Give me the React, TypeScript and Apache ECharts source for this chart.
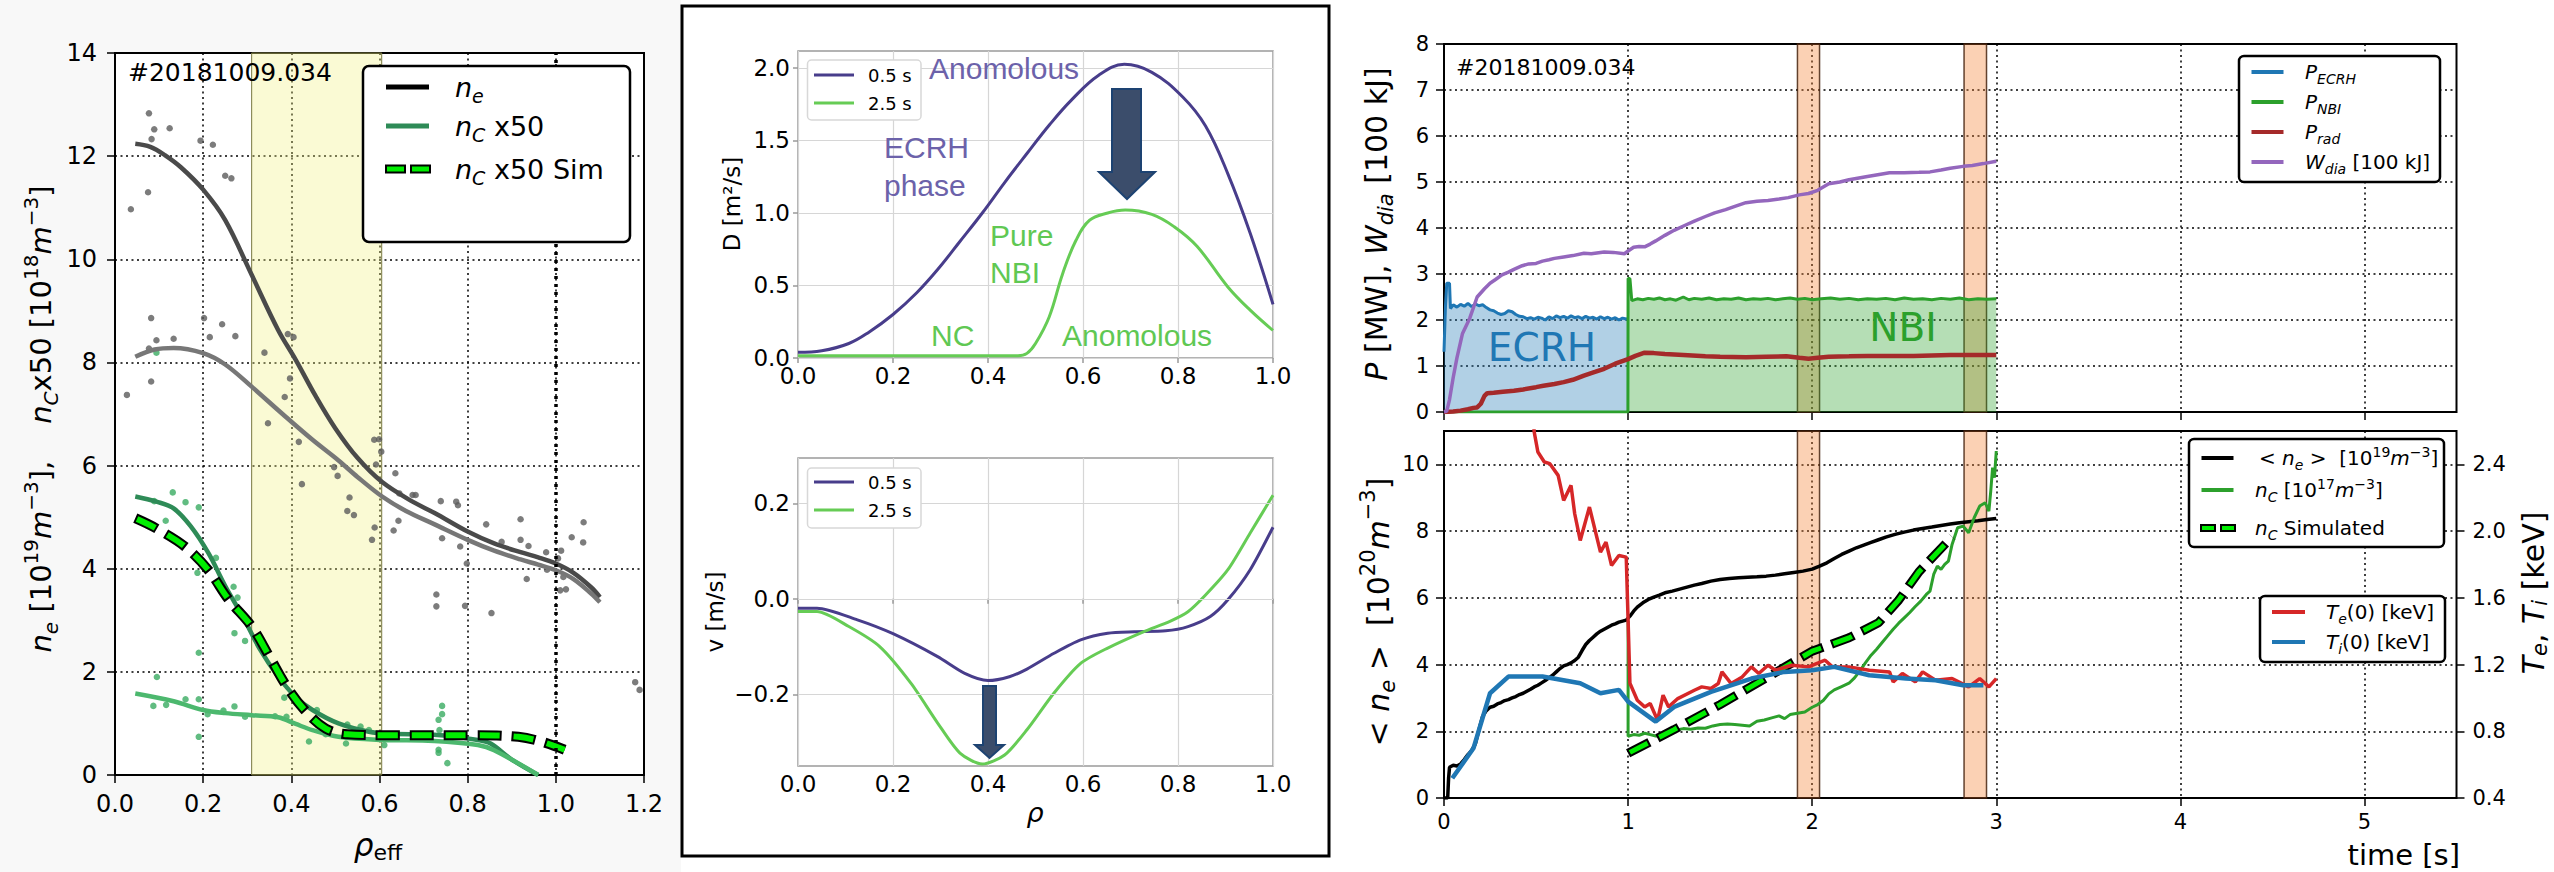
import React, { useEffect, useRef } from 'react';
import * as echarts from 'echarts';

const FONT = "'DejaVu Sans', 'Noto Sans', sans-serif";
const ARIAL = "'Liberation Sans', Arial, sans-serif";

// ---------- left panel: density profiles over rho_eff ----------
const rhoTicks = [0, 0.2, 0.4, 0.6, 0.8, 1.0, 1.2];
const densityTicks = [0, 2, 4, 6, 8, 10, 12, 14];
const yellowBand = [0.31, 0.605];
const separatrix = 1.0;

const neFitA = [[0.046,12.24],[0.08,12.18],[0.113,12.02],[0.15,11.78],[0.2,11.35],[0.25,10.76],[0.31,9.7],[0.37,8.63],[0.41,8.05],[0.455,7.35],[0.5,6.72],[0.55,6.15],[0.606,5.68],[0.675,5.3],[0.725,5.08],[0.8,4.72],[0.86,4.49],[0.92,4.32],[0.96,4.22],[1.0,4.1],[1.04,3.92],[1.08,3.64],[1.1,3.45]];
const neFitB = [[0.046,8.11],[0.09,8.25],[0.133,8.28],[0.2,8.18],[0.25,7.96],[0.31,7.53],[0.38,7.0],[0.448,6.5],[0.507,6.1],[0.55,5.78],[0.606,5.4],[0.66,5.12],[0.725,4.86],[0.8,4.56],[0.86,4.35],[0.92,4.18],[0.96,4.08],[1.0,3.97],[1.04,3.8],[1.08,3.52],[1.1,3.35]];
const neDots = [[0.077,12.83],[0.036,10.97],[0.083,12.33],[0.089,12.52],[0.124,12.54],[0.075,11.3],[0.194,12.3],[0.222,12.22],[0.25,11.62],[0.264,11.57],[0.027,7.37],[0.082,8.86],[0.077,8.27],[0.094,8.43],[0.133,8.46],[0.082,7.63],[0.202,8.86],[0.215,8.49],[0.243,8.74],[0.273,8.51],[0.339,8.19],[0.347,6.82],[0.392,8.55],[0.405,8.49],[0.397,7.69],[0.385,7.33],[0.417,6.46],[0.424,5.64],[0.497,5.97],[0.505,5.8],[0.532,5.38],[0.527,5.12],[0.542,5.04],[0.588,6.5],[0.599,6.51],[0.604,6.27],[0.592,6.02],[0.589,4.8],[0.583,4.56],[0.636,5.85],[0.645,5.46],[0.675,5.43],[0.682,5.43],[0.643,4.93],[0.632,4.74],[0.739,5.31],[0.774,5.3],[0.778,5.23],[0.742,4.59],[0.783,4.43],[0.729,3.5],[0.729,3.27],[0.798,4.1],[0.794,3.28],[0.842,4.86],[0.854,3.14],[0.877,4.52],[0.92,4.96],[0.92,4.56],[0.938,4.44],[0.934,3.8],[0.978,4.32],[0.98,3.98],[1.005,4.2],[1.012,4.35],[1.01,3.58],[1.023,3.6],[1.036,4.61],[1.063,4.9],[1.062,4.51],[1.017,3.84],[1.18,1.8],[1.19,1.65]];
const ncFitCore = [[0.046,5.4],[0.094,5.3],[0.133,5.17],[0.172,4.82],[0.212,4.3],[0.251,3.65],[0.29,3.07],[0.33,2.42],[0.37,1.91],[0.409,1.52],[0.448,1.26],[0.507,1.0],[0.576,0.84],[0.626,0.8],[0.724,0.78],[0.823,0.68],[0.852,0.61],[0.9,0.3],[0.96,0.0]];
const ncFitEdge = [[0.046,1.58],[0.133,1.43],[0.2,1.26],[0.25,1.2],[0.31,1.16],[0.37,1.12],[0.41,0.99],[0.448,0.87],[0.507,0.74],[0.606,0.68],[0.724,0.66],[0.823,0.58],[0.86,0.48],[0.96,0.0]];
const ncDots = [[0.089,5.31],[0.115,4.93],[0.131,5.48],[0.16,5.29],[0.19,5.19],[0.229,4.21],[0.187,3.92],[0.269,3.65],[0.278,3.44],[0.271,2.75],[0.295,2.6],[0.19,2.37],[0.095,1.9],[0.087,1.34],[0.116,1.36],[0.16,1.47],[0.19,1.47],[0.21,1.18],[0.246,1.25],[0.271,1.33],[0.295,1.13],[0.363,1.14],[0.384,1.5],[0.389,1.13],[0.44,0.65],[0.458,1.26],[0.478,0.79],[0.524,0.61],[0.527,0.98],[0.557,0.94],[0.576,0.87],[0.611,0.58],[0.734,1.07],[0.736,0.87],[0.742,1.34],[0.742,1.18],[0.734,0.49],[0.734,0.43],[0.754,0.23],[0.19,0.74],[0.094,8.19]];
const ncSimProfile = [[0.046,4.98],[0.094,4.78],[0.16,4.42],[0.212,3.97],[0.258,3.4],[0.31,2.88],[0.35,2.3],[0.39,1.71],[0.43,1.26],[0.478,0.9],[0.527,0.79],[0.626,0.77],[0.823,0.77],[0.915,0.74],[0.97,0.64],[1.02,0.49]];

// ---------- middle panel: transport coefficients ----------
const rhoUnitTicks = [0, 0.2, 0.4, 0.6, 0.8, 1.0];
const diffTicks = [0, 0.5, 1.0, 1.5, 2.0];
const velTicks = [-0.2, 0, 0.2];
const diffEcrh = [[0,0.039],[0.05,0.05],[0.107,0.1],[0.15,0.18],[0.2,0.3],[0.25,0.45],[0.294,0.61],[0.34,0.8],[0.388,1.0],[0.435,1.21],[0.482,1.41],[0.53,1.61],[0.576,1.78],[0.633,1.95],[0.687,2.025],[0.745,1.97],[0.81,1.8],[0.858,1.6],[0.905,1.27],[0.952,0.86],[1.0,0.37]];
const diffNbi = [[0,0.016],[0.1,0.016],[0.2,0.016],[0.3,0.016],[0.4,0.016],[0.463,0.016],[0.482,0.032],[0.5,0.1],[0.529,0.285],[0.557,0.58],[0.585,0.81],[0.614,0.95],[0.652,1.0],[0.689,1.02],[0.745,0.99],[0.792,0.905],[0.84,0.77],[0.905,0.49],[0.952,0.33],[1.0,0.19]];
const velEcrh = [[0,-0.0195],[0.04,-0.0195],[0.125,-0.044],[0.2,-0.073],[0.294,-0.121],[0.351,-0.156],[0.4,-0.171],[0.445,-0.163],[0.482,-0.147],[0.539,-0.114],[0.595,-0.086],[0.652,-0.072],[0.708,-0.069],[0.774,-0.067],[0.821,-0.058],[0.868,-0.037],[0.905,-0.002],[0.952,0.061],[1.0,0.15]];
const velNbi = [[0,-0.0265],[0.04,-0.0265],[0.107,-0.058],[0.172,-0.1],[0.238,-0.177],[0.294,-0.26],[0.341,-0.323],[0.388,-0.346],[0.435,-0.327],[0.482,-0.274],[0.539,-0.197],[0.595,-0.135],[0.652,-0.103],[0.727,-0.069],[0.783,-0.047],[0.821,-0.027],[0.858,0.008],[0.905,0.061],[0.952,0.138],[1.0,0.217]];

// ---------- right panels: time traces ----------
const timeTicks = [0, 1, 2, 3, 4, 5];
const powerTicks = [0, 1, 2, 3, 4, 5, 6, 7, 8];
const densTimeTicks = [0, 2, 4, 6, 8, 10];
const tempTicks = [0.4, 0.8, 1.2, 1.6, 2.0, 2.4];
const profileWindows = [[1.92, 2.04], [2.825, 2.947]];

const pEcrh = [[0,1.31],[0.008,2.3],[0.015,2.8],[0.03,2.8],[0.035,2.25],[0.05,2.33],[0.07,2.28],[0.09,2.34],[0.11,2.3],[0.13,2.36],[0.15,2.29],[0.17,2.35],[0.19,2.31],[0.21,2.33],[0.23,2.27],[0.25,2.22],[0.27,2.2],[0.29,2.15],[0.31,2.12],[0.33,2.14],[0.35,2.2],[0.37,2.18],[0.39,2.12],[0.41,2.08],[0.43,2.07],[0.45,2.03],[0.47,2.05],[0.49,2.02],[0.51,2.06],[0.53,2.04],[0.55,2.0],[0.57,2.07],[0.59,2.03],[0.61,2.09],[0.63,2.05],[0.65,2.08],[0.67,2.04],[0.69,2.09],[0.71,2.05],[0.73,2.07],[0.75,2.03],[0.77,2.08],[0.79,2.04],[0.81,2.06],[0.83,2.02],[0.85,2.07],[0.87,2.03],[0.89,2.06],[0.91,2.02],[0.93,2.05],[0.95,2.0],[0.97,2.04],[0.99,2.02],[1.0,2.03]];
const pNbi = [[0,0],[0.5,0],[0.999,0],[1.0,2.9],[1.01,2.9],[1.02,2.42],[1.05,2.46],[1.08,2.44],[1.11,2.47],[1.14,2.45],[1.17,2.48],[1.2,2.44],[1.23,2.46],[1.26,2.43],[1.3,2.5],[1.33,2.44],[1.36,2.47],[1.4,2.45],[1.44,2.48],[1.48,2.44],[1.52,2.46],[1.56,2.45],[1.6,2.48],[1.64,2.44],[1.68,2.46],[1.72,2.45],[1.76,2.47],[1.8,2.44],[1.84,2.46],[1.88,2.48],[1.92,2.45],[1.96,2.47],[2.0,2.44],[2.05,2.46],[2.1,2.48],[2.15,2.45],[2.2,2.47],[2.25,2.44],[2.3,2.46],[2.35,2.45],[2.4,2.47],[2.45,2.44],[2.5,2.48],[2.55,2.45],[2.6,2.46],[2.65,2.44],[2.7,2.47],[2.75,2.45],[2.8,2.48],[2.85,2.44],[2.9,2.46],[2.95,2.45],[3.0,2.46]];
const pRad = [[0,0],[0.05,0.01],[0.09,0.03],[0.13,0.06],[0.16,0.09],[0.18,0.1],[0.2,0.18],[0.22,0.35],[0.235,0.41],[0.27,0.42],[0.32,0.44],[0.38,0.46],[0.43,0.49],[0.5,0.54],[0.54,0.57],[0.6,0.61],[0.65,0.65],[0.7,0.7],[0.76,0.79],[0.82,0.87],[0.87,0.94],[0.93,1.05],[1.0,1.15],[1.04,1.22],[1.09,1.29],[1.14,1.28],[1.2,1.26],[1.3,1.24],[1.42,1.21],[1.5,1.2],[1.64,1.19],[1.75,1.2],[1.86,1.21],[1.93,1.18],[1.98,1.16],[2.03,1.18],[2.09,1.2],[2.2,1.21],[2.3,1.22],[2.42,1.22],[2.55,1.22],[2.65,1.23],[2.75,1.24],[2.85,1.24],[2.95,1.24],[3.0,1.24]];
const wDia = [[0,0],[0.015,0.02],[0.03,0.27],[0.05,0.75],[0.07,1.17],[0.1,1.7],[0.14,2.04],[0.18,2.5],[0.22,2.68],[0.25,2.8],[0.28,2.88],[0.315,2.98],[0.35,3.04],[0.38,3.1],[0.425,3.18],[0.46,3.22],[0.5,3.23],[0.535,3.28],[0.57,3.31],[0.6,3.34],[0.65,3.37],[0.7,3.4],[0.76,3.45],[0.8,3.44],[0.87,3.48],[0.92,3.47],[0.98,3.44],[1.0,3.5],[1.03,3.58],[1.06,3.6],[1.09,3.59],[1.12,3.65],[1.15,3.72],[1.2,3.84],[1.25,3.95],[1.31,4.06],[1.36,4.15],[1.42,4.25],[1.47,4.33],[1.53,4.4],[1.58,4.47],[1.64,4.55],[1.7,4.58],[1.76,4.6],[1.82,4.63],[1.87,4.66],[1.93,4.72],[1.98,4.75],[2.03,4.82],[2.09,4.96],[2.15,5.0],[2.2,5.05],[2.3,5.12],[2.42,5.2],[2.5,5.2],[2.58,5.21],[2.64,5.22],[2.7,5.26],[2.75,5.3],[2.82,5.34],[2.87,5.36],[2.93,5.4],[3.0,5.45]];

const neLineAvg = [[0,0],[0.02,0],[0.025,0.6],[0.03,0.92],[0.05,0.98],[0.07,0.96],[0.09,1.02],[0.11,1.15],[0.13,1.3],[0.15,1.42],[0.17,1.62],[0.19,2.05],[0.21,2.45],[0.23,2.62],[0.25,2.72],[0.27,2.75],[0.29,2.82],[0.31,2.86],[0.33,2.92],[0.35,2.95],[0.37,3.0],[0.39,3.04],[0.41,3.1],[0.43,3.14],[0.45,3.2],[0.47,3.26],[0.49,3.33],[0.51,3.38],[0.53,3.45],[0.55,3.52],[0.57,3.6],[0.59,3.68],[0.61,3.78],[0.63,3.88],[0.65,3.96],[0.67,4.0],[0.69,4.05],[0.71,4.12],[0.73,4.22],[0.75,4.42],[0.77,4.6],[0.79,4.72],[0.81,4.82],[0.83,4.92],[0.85,5.0],[0.87,5.06],[0.89,5.12],[0.91,5.18],[0.93,5.22],[0.95,5.27],[0.97,5.3],[0.99,5.33],[1.01,5.45],[1.03,5.6],[1.05,5.72],[1.08,5.85],[1.11,5.95],[1.14,6.02],[1.17,6.08],[1.2,6.15],[1.24,6.2],[1.28,6.26],[1.32,6.32],[1.36,6.38],[1.4,6.43],[1.45,6.5],[1.5,6.55],[1.55,6.58],[1.6,6.6],[1.65,6.62],[1.7,6.63],[1.75,6.65],[1.8,6.68],[1.85,6.72],[1.9,6.76],[1.95,6.8],[2.0,6.86],[2.04,6.95],[2.08,7.05],[2.12,7.18],[2.16,7.3],[2.2,7.4],[2.24,7.5],[2.28,7.58],[2.32,7.66],[2.36,7.74],[2.4,7.82],[2.45,7.9],[2.5,7.97],[2.55,8.03],[2.6,8.08],[2.65,8.12],[2.7,8.17],[2.75,8.21],[2.8,8.25],[2.85,8.28],[2.9,8.31],[2.95,8.35],[3.0,8.38]];
const ncTrace = [[1.0,5.3],[1.0,1.85],[1.03,1.9],[1.06,1.88],[1.09,1.94],[1.12,1.9],[1.15,1.86],[1.18,1.84],[1.21,1.92],[1.24,1.98],[1.27,2.05],[1.3,2.08],[1.34,2.06],[1.38,2.1],[1.42,2.09],[1.46,2.16],[1.5,2.2],[1.54,2.22],[1.58,2.2],[1.62,2.18],[1.66,2.16],[1.7,2.3],[1.74,2.34],[1.78,2.4],[1.82,2.46],[1.85,2.38],[1.88,2.5],[1.92,2.54],[1.96,2.58],[2.0,2.72],[2.03,2.8],[2.06,2.92],[2.09,3.12],[2.12,3.24],[2.16,3.34],[2.2,3.44],[2.23,3.6],[2.26,3.82],[2.29,4.06],[2.32,4.28],[2.35,4.46],[2.38,4.66],[2.41,4.86],[2.44,5.06],[2.47,5.24],[2.5,5.4],[2.53,5.56],[2.56,5.74],[2.59,5.9],[2.62,6.1],[2.64,6.2],[2.66,6.7],[2.68,6.95],[2.7,6.85],[2.72,7.0],[2.74,7.1],[2.76,7.6],[2.79,8.1],[2.82,8.15],[2.85,7.95],[2.88,8.4],[2.91,8.75],[2.94,8.85],[2.96,8.6],[2.97,9.2],[2.98,9.9],[2.99,9.6],[3.0,10.4]];
const ncSimTrace = [[1.0,1.34],[1.25,2.05],[1.5,2.8],[1.75,3.6],[2.0,4.4],[2.2,4.8],[2.36,5.25],[2.47,5.93],[2.58,6.78],[2.76,7.83]];
const teCentral = [[0.48,2.75],[0.49,2.594],[0.51,2.474],[0.545,2.414],[0.575,2.404],[0.62,2.334],[0.65,2.184],[0.69,2.274],[0.71,2.104],[0.74,1.944],[0.79,2.144],[0.85,1.874],[0.88,1.934],[0.91,1.794],[0.95,1.854],[0.99,1.844],[1.01,1.088],[1.05,0.986],[1.09,0.946],[1.12,0.966],[1.16,0.866],[1.19,1.016],[1.22,0.946],[1.27,0.996],[1.36,1.046],[1.4,1.066],[1.45,1.056],[1.49,1.086],[1.51,1.156],[1.56,1.086],[1.62,1.126],[1.67,1.186],[1.71,1.146],[1.76,1.196],[1.8,1.166],[1.89,1.196],[1.98,1.186],[2.07,1.226],[2.11,1.186],[2.2,1.186],[2.31,1.166],[2.42,1.156],[2.44,1.096],[2.49,1.146],[2.56,1.096],[2.6,1.156],[2.67,1.106],[2.76,1.116],[2.85,1.066],[2.91,1.116],[2.96,1.066],[3.0,1.116]];
const tiCentral = [[0.045,0.518],[0.16,0.698],[0.25,1.028],[0.35,1.128],[0.535,1.128],[0.74,1.088],[0.85,1.028],[0.95,1.048],[1.0,0.978],[1.15,0.858],[1.25,0.946],[1.45,1.036],[1.67,1.116],[1.85,1.156],[2.0,1.166],[2.12,1.186],[2.31,1.136],[2.51,1.116],[2.67,1.106],[2.82,1.076],[2.93,1.076]];

// ---------- colours ----------
const C = {
  purpleLine: '#483d8b', greenLine: '#66cc55',
  purpleText: '#6c62aa', greenText: '#60c853',
  ecrh: '#1f77b4', nbi: '#2ca02c', rad: '#a52a2a', wdia: '#9467bd',
  te: '#d62728', ti: '#1f77b4', sim: '#00ee00',
};

// rich-text styles: italic math letters, sub- and superscripts
function rich(size: number, lh: number) {
  const sub = Math.round(size * 0.7);
  return {
    i: { fontSize: size, fontStyle: 'italic', fontFamily: FONT, lineHeight: size * lh, verticalAlign: 'middle' },
    r: { fontSize: size, fontFamily: FONT, lineHeight: size * lh, verticalAlign: 'middle' },
    s: { fontSize: sub, fontStyle: 'italic', fontFamily: FONT, lineHeight: size * (lh - 0.55), verticalAlign: 'bottom' },
    sr: { fontSize: sub, fontFamily: FONT, lineHeight: size * (lh - 0.55), verticalAlign: 'bottom' },
    p: { fontSize: sub, fontFamily: FONT, lineHeight: size * (lh - 0.55), verticalAlign: 'top' },
  };
}

function txt(x: number, y: number, text: string, size: number, o: any = {}) {
  const lh = o.lh || 1.35;
  return {
    type: 'text', x, y, z: 100, silent: true, rotation: o.rotation || 0,
    style: {
      text, fontSize: size, fontFamily: o.family || FONT, fontStyle: o.italic ? 'italic' : 'normal',
      fill: o.color || '#000', align: o.align || 'left', verticalAlign: 'middle',
      lineHeight: size * lh, rich: rich(size, lh),
    },
  };
}

function seg(x1: number, y1: number, x2: number, y2: number, color: string, w: number) {
  return { type: 'line', z: 100, silent: true, shape: { x1, y1, x2, y2 }, style: { stroke: color, lineWidth: w } };
}

function box(x: number, y: number, w: number, h: number, stroke: string, lw: number, r = 5) {
  return { type: 'rect', z: 99, silent: true, shape: { x, y, width: w, height: h, r }, style: { fill: '#fff', stroke, lineWidth: lw } };
}

function simKey(x: number, y: number, w: number, h: number) {
  return [
    { type: 'rect', z: 100, silent: true, shape: { x, y: y - h / 2, width: w, height: h }, style: { fill: C.sim, stroke: '#000', lineWidth: 2 } },
    { type: 'rect', z: 100, silent: true, shape: { x: x + w + 6, y: y - h / 2, width: w, height: h }, style: { fill: C.sim, stroke: '#000', lineWidth: 2 } },
  ];
}

const dotted = { type: [2, 3.5], color: '#000', width: 1.5 };
const lightGrid = { type: 'solid', color: '#d6d6d6', width: 1.2 };
const fmt1 = (v: number) => v.toFixed(1).replace('-', '\u2212');
const fmt0 = (v: number) => String(Math.round(v));

function axis(o: any) {
  return {
    type: 'value', gridIndex: o.grid, min: o.min, max: o.max, interval: o.interval, position: o.position,
    axisLine: { show: false },
    axisTick: { show: true, length: o.tickLen ?? 8, customValues: o.ticks, lineStyle: { color: o.tickColor ?? '#000', width: 1.5 } },
    axisLabel: { show: o.labels !== false, customValues: o.ticks, fontSize: o.fontSize, fontFamily: FONT, color: '#000', margin: o.margin, formatter: o.fmt },
    splitLine: o.split ? { show: true, lineStyle: o.split } : { show: false },
  };
}

function line(data: any, xi: number, yi: number, color: string, width: number, extra: any = {}) {
  return {
    type: 'line', data, xAxisIndex: xi, yAxisIndex: yi, showSymbol: false, symbol: 'none', silent: true,
    lineStyle: { color, width, ...(extra.lineStyle || {}) }, itemStyle: { color },
    ...Object.fromEntries(Object.entries(extra).filter(([k]) => k !== 'lineStyle')),
  };
}

function buildOption() {
  const bandStyle = { color: 'rgba(244,128,48,0.36)', borderColor: 'rgba(70,35,15,0.85)', borderWidth: 1.5 };
  const windows = profileWindows.map(([a, b]) => [{ xAxis: a }, { xAxis: b }]);

  const series: any[] = [
    // left panel
    {
      type: 'line', data: [], xAxisIndex: 0, yAxisIndex: 0, silent: true,
      markArea: { silent: true, itemStyle: { color: 'rgba(240,240,120,0.32)', borderColor: '#77773f', borderWidth: 1 }, data: [[{ xAxis: yellowBand[0] }, { xAxis: yellowBand[1] }]] },
      markLine: { silent: true, symbol: ['none', 'none'], label: { show: false }, lineStyle: { color: '#000', width: 3.5, type: [3, 5] }, data: [{ xAxis: separatrix }] },
    },
    { type: 'scatter', data: neDots, xAxisIndex: 0, yAxisIndex: 0, symbolSize: 6.5, silent: true, itemStyle: { color: '#5b5b5b' } },
    line(neFitA, 0, 0, '#4a4a4a', 4.5, { smooth: 0.35 }),
    line(neFitB, 0, 0, '#777777', 4.5, { smooth: 0.35 }),
    { type: 'scatter', data: ncDots, xAxisIndex: 0, yAxisIndex: 0, symbolSize: 6.5, silent: true, itemStyle: { color: '#3aab62' } },
    line(ncFitCore, 0, 0, '#2e8b57', 4.5, { smooth: 0.35 }),
    line(ncFitEdge, 0, 0, '#4cb86e', 4.5, { smooth: 0.35 }),
    line(ncSimProfile, 0, 0, '#000', 10, { smooth: 0.35, lineStyle: { type: [24, 10], cap: 'butt' } }),
    line(ncSimProfile, 0, 0, C.sim, 6, { smooth: 0.35, lineStyle: { type: [20, 14], dashOffset: -2, cap: 'butt' } }),

    // middle top: D
    line(diffEcrh, 1, 1, C.purpleLine, 3, { smooth: 0.4 }),
    line(diffNbi, 1, 1, C.greenLine, 3, { smooth: 0.4 }),

    // middle bottom: v
    {
      type: 'line', data: [], xAxisIndex: 2, yAxisIndex: 2, silent: true,
      markLine: { silent: true, symbol: ['none', 'none'], label: { show: false }, lineStyle: lightGrid, data: velTicks.map((v) => ({ yAxis: v })) },
    },
    line(velEcrh, 2, 2, C.purpleLine, 3, { smooth: 0.25 }),
    line(velNbi, 2, 2, C.greenLine, 3, { smooth: 0.25 }),

    // right top: powers
    line(pEcrh, 3, 3, C.ecrh, 3, { areaStyle: { color: 'rgba(31,119,180,0.5)' } }),
    line(pNbi, 3, 3, C.nbi, 3, { areaStyle: { color: 'rgba(44,160,44,0.5)' } }),
    line(pRad, 3, 3, C.rad, 4.5),
    line(wDia, 3, 3, C.wdia, 3.5),
    { type: 'line', data: [], xAxisIndex: 3, yAxisIndex: 3, silent: true, z: 10, markArea: { silent: true, itemStyle: bandStyle, data: windows } },

    // right bottom: densities and temperatures
    line(neLineAvg, 4, 4, '#000', 3.5),
    line(ncTrace, 4, 4, C.nbi, 3),
    line(ncSimTrace, 4, 4, '#000', 9, { lineStyle: { type: [24, 9], cap: 'butt' } }),
    line(ncSimTrace, 4, 4, C.sim, 5, { lineStyle: { type: [20, 13], dashOffset: -2, cap: 'butt' } }),
    line(teCentral, 4, 5, C.te, 3.5),
    line(tiCentral, 4, 5, C.ti, 4.5),
    { type: 'line', data: [], xAxisIndex: 4, yAxisIndex: 4, silent: true, z: 10, markArea: { silent: true, itemStyle: bandStyle, data: windows } },
  ];

  const graphic: any[] = [
    { type: 'rect', z: -5, silent: true, shape: { x: 0, y: 0, width: 681, height: 872 }, style: { fill: '#f8f8f8' } },
    { type: 'rect', z: -4, silent: true, shape: { x: 682, y: 6, width: 647, height: 850 }, style: { fill: '#fff', stroke: '#000', lineWidth: 3 } },

    // left panel texts
    txt(128, 72, '#20181009.034', 25),
    txt(41, 419, '{i|n}{s|e} [10{p|19}{i|m}{p|\u22123}],    {i|n}{s|C}x50 [10{p|18}{i|m}{p|\u22123}]', 29, { rotation: Math.PI / 2, align: 'center' }),
    txt(378, 845, '{i|\u03c1}{sr|eff}', 31, { align: 'center', lh: 1.2 }),
    box(363, 66, 267, 176, '#000', 2.5, 6),
    seg(386, 87, 429, 87, '#000', 5),
    seg(386, 126, 429, 126, '#2e8b57', 5),
    ...simKey(386, 169, 19, 7),
    txt(455, 87, '{i|n}{s|e}', 27),
    txt(455, 126, '{i|n}{s|C} x50', 27),
    txt(455, 169, '{i|n}{s|C} x50 Sim', 27),

    // middle panel texts
    txt(732, 204, 'D [m\u00b2/s]', 23, { rotation: Math.PI / 2, align: 'center' }),
    txt(715, 612, 'v [m/s]', 23, { rotation: Math.PI / 2, align: 'center' }),
    txt(1035, 812, '\u03c1', 27, { italic: true, align: 'center' }),
    txt(929, 68, 'Anomolous', 30, { family: ARIAL, color: C.purpleText }),
    txt(884, 147, 'ECRH', 30, { family: ARIAL, color: C.purpleText }),
    txt(884, 185, 'phase', 30, { family: ARIAL, color: C.purpleText }),
    txt(990, 235, 'Pure', 30, { family: ARIAL, color: C.greenText }),
    txt(990, 272, 'NBI', 30, { family: ARIAL, color: C.greenText }),
    txt(931, 335, 'NC', 30, { family: ARIAL, color: C.greenText }),
    txt(1062, 335, 'Anomolous', 30, { family: ARIAL, color: C.greenText }),
    {
      type: 'polygon', z: 100, silent: true,
      shape: { points: [[1112, 89], [1141, 89], [1141, 172], [1155, 172], [1127, 199], [1099, 172], [1112, 172]] },
      style: { fill: '#3b4d6b', stroke: '#1d4372', lineWidth: 2 },
    },
    {
      type: 'polygon', z: 100, silent: true,
      shape: { points: [[983, 686], [996, 686], [996, 745], [1004, 745], [989.5, 758], [975, 745], [983, 745]] },
      style: { fill: '#3b4d6b', stroke: '#1d4372', lineWidth: 2 },
    },
    box(807.5, 60, 113.5, 60, '#d8d8d8', 1.5, 4),
    seg(814, 75, 854, 75, C.purpleLine, 3),
    seg(814, 103, 854, 103, C.greenLine, 3),
    txt(868, 75, '0.5 s', 18),
    txt(868, 103, '2.5 s', 18),
    box(807.5, 468, 113.5, 60, '#d8d8d8', 1.5, 4),
    seg(814, 482, 854, 482, C.purpleLine, 3),
    seg(814, 510, 854, 510, C.greenLine, 3),
    txt(868, 482, '0.5 s', 18),
    txt(868, 510, '2.5 s', 18),

    // right panel texts
    txt(1456, 67, '#20181009.034', 22),
    txt(1542, 347, 'ECRH', 39, { color: C.ecrh, align: 'center' }),
    txt(1903, 327, 'NBI', 39, { color: C.nbi, align: 'center' }),
    txt(1376, 224, '{i|P} [MW], {i|W}{s|dia} [100 kJ]', 30, { rotation: Math.PI / 2, align: 'center' }),
    txt(1378, 612, '< {i|n}{s|e} >  [10{p|20}{i|m}{p|\u22123}]', 30, { rotation: Math.PI / 2, align: 'center' }),
    txt(2533, 593, '{i|T}{s|e}, {i|T}{s|i} [keV]', 30, { rotation: Math.PI / 2, align: 'center', lh: 1.15 }),
    txt(2460, 855, 'time [s]', 29, { align: 'right', lh: 1.1 }),

    box(2239, 56, 201, 126, '#000', 2.5, 5),
    seg(2251.5, 72, 2283.5, 72, C.ecrh, 4),
    seg(2251.5, 102, 2283.5, 102, C.nbi, 4),
    seg(2251.5, 132, 2283.5, 132, C.rad, 4),
    seg(2251.5, 162, 2283.5, 162, C.wdia, 4),
    txt(2305, 72, '{i|P}{s|ECRH}', 20),
    txt(2305, 102, '{i|P}{s|NBI}', 20),
    txt(2305, 132, '{i|P}{s|rad}', 20),
    txt(2305, 162, '{i|W}{s|dia} [100 kJ]', 20),

    box(2189, 439, 255, 108, '#000', 2.5, 5),
    seg(2201.5, 458, 2233.5, 458, '#000', 4),
    seg(2201.5, 490, 2233.5, 490, C.nbi, 4),
    ...simKey(2201, 528, 14, 6),
    txt(2259, 458, '< {i|n}{s|e} >  [10{p|19}{i|m}{p|\u22123}]', 20),
    txt(2255, 490, '{i|n}{s|C} [10{p|17}{i|m}{p|\u22123}]', 20),
    txt(2255, 528, '{i|n}{s|C} Simulated', 20),

    box(2260, 596, 185, 66, '#000', 2.5, 5),
    seg(2272, 612, 2305, 612, C.te, 4),
    seg(2272, 642, 2305, 642, C.ti, 4),
    txt(2326, 612, '{i|T}{s|e}(0) [keV]', 20),
    txt(2326, 642, '{i|T}{s|i}(0) [keV]', 20),
  ];

  return {
    animation: false,
    backgroundColor: 'transparent',
    grid: [
      { left: 115, top: 53, width: 529, height: 722, show: true, backgroundColor: '#fff', borderColor: '#000', borderWidth: 2 },
      { left: 798, top: 51, width: 475, height: 307, show: true, backgroundColor: '#fff', borderColor: '#9a9a9a', borderWidth: 1.5 },
      { left: 798, top: 458, width: 475, height: 308, show: true, backgroundColor: '#fff', borderColor: '#9a9a9a', borderWidth: 1.5 },
      { left: 1444, top: 44, width: 1012.5, height: 368, show: true, backgroundColor: '#fff', borderColor: '#000', borderWidth: 2 },
      { left: 1444, top: 431, width: 1012.5, height: 367, show: true, backgroundColor: '#fff', borderColor: '#000', borderWidth: 2 },
    ],
    xAxis: [
      axis({ grid: 0, min: 0, max: 1.2, interval: 0.2, ticks: rhoTicks, fontSize: 24, margin: 17, fmt: fmt1, split: dotted }),
      axis({ grid: 1, min: 0, max: 1, interval: 0.2, ticks: rhoUnitTicks, fontSize: 23, margin: 6, fmt: fmt1, split: lightGrid, tickLen: 5, tickColor: '#9a9a9a' }),
      axis({ grid: 2, min: 0, max: 1, interval: 0.2, ticks: rhoUnitTicks, fontSize: 23, margin: 6, fmt: fmt1, split: lightGrid, tickLen: 5, tickColor: '#9a9a9a' }),
      axis({ grid: 3, min: 0, max: 5.5, interval: 1, ticks: timeTicks, labels: false, split: dotted }),
      axis({ grid: 4, min: 0, max: 5.5, interval: 1, ticks: timeTicks, fontSize: 21, margin: 13, fmt: fmt0, split: dotted }),
    ],
    yAxis: [
      axis({ grid: 0, min: 0, max: 14, interval: 2, ticks: densityTicks, fontSize: 24, margin: 18, fmt: fmt0, split: dotted }),
      axis({ grid: 1, min: 0, max: 2.117, interval: 0.5, ticks: diffTicks, fontSize: 23, margin: 8, fmt: fmt1, split: lightGrid, tickLen: 5, tickColor: '#9a9a9a' }),
      axis({ grid: 2, min: -0.35, max: 0.295, ticks: velTicks, fontSize: 23, margin: 8, fmt: fmt1, tickLen: 5, tickColor: '#9a9a9a' }),
      axis({ grid: 3, min: 0, max: 8, interval: 1, ticks: powerTicks, fontSize: 21, margin: 15, fmt: fmt0, split: dotted }),
      axis({ grid: 4, min: 0, max: 11, interval: 2, ticks: densTimeTicks, fontSize: 21, margin: 15, fmt: fmt0, split: dotted }),
      axis({ grid: 4, min: 0.4, max: 2.6, interval: 0.4, ticks: tempTicks, position: 'right', fontSize: 21, margin: 16, fmt: fmt1 }),
    ],
    series,
    graphic: { elements: graphic },
  };
}

export default function App() {
  const ref = useRef<HTMLDivElement>(null);
  useEffect(() => {
    const chart = echarts.init(ref.current as HTMLDivElement, null, { renderer: 'svg' });
    chart.setOption(buildOption() as any);
    return () => chart.dispose();
  }, []);
  return (
    <div
      ref={ref}
      style={{ position: 'absolute', left: 0, top: 0, width: 2554, height: 872, background: '#fff' }}
    />
  );
}
